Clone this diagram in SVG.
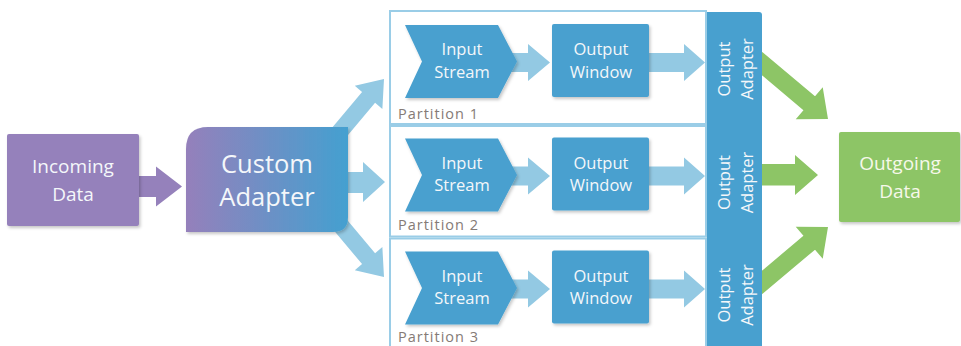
<svg xmlns="http://www.w3.org/2000/svg" width="961" height="346" viewBox="0 0 961 346">
  <defs>
    <linearGradient id="adapterGrad" x1="0" y1="0" x2="1" y2="0">
      <stop offset="0" stop-color="#9580BB"/>
      <stop offset="1" stop-color="#44A0D0"/>
    </linearGradient>
    <filter id="shadow" x="-10%" y="-10%" width="130%" height="130%">
      <feDropShadow dx="1.5" dy="2" stdDeviation="1.5" flood-color="#000" flood-opacity="0.22"/>
    </filter>
    <polygon id="diagBlue" points="0,0 -24,-18 -24,-8.5 -85,-8.5 -85,8.5 -24,8.5 -24,18"/>
    <polygon id="diagGreen" points="0,0 -24.5,-21 -24.5,-9 -100,-9 -100,9 -24.5,9 -24.5,21"/>
  </defs>
  <style>
    text { font-family: "Open Sans", "Noto Sans", "DejaVu Sans", sans-serif; }
    .lbl { fill: #F4F7FA; text-anchor: middle; }
    .big { font-size: 19px; }
    .huge { font-size: 25.5px; }
    .mid { font-size: 16.5px; }
    .part { fill: none; stroke: #9ACDE7; stroke-width: 2; }
    .ptxt { fill: #857B76; font-size: 14.5px; letter-spacing: 1px; }
    .blue { fill: #48A0CF; }
    .flow { fill: #93C9E3; }
    .green { fill: #8DC566; }
    .purple { fill: #9581BB; }
  </style>

  <!-- partition frames -->
  <g id="partitions">
    <rect class="part" x="390" y="11" width="316" height="113"/>
    <rect class="part" x="390" y="126" width="316" height="110.5"/>
    <rect class="part" x="390" y="238.5" width="316" height="120"/>
    <text class="ptxt" x="398" y="119">Partition 1</text>
    <text class="ptxt" x="398" y="230">Partition 2</text>
    <text class="ptxt" x="398" y="342">Partition 3</text>
  </g>

  <!-- connectors -->
  <g id="connectors">
    <polygon class="purple" points="136,176 156,176 156,166.5 182,186.5 156,206.5 156,197 136,197"/>
    <use href="#diagBlue" class="flow" transform="translate(384,79) rotate(-50)"/>
    <polygon class="flow" points="340,172 363,172 363,162 385,182 363,202 363,193 340,193"/>
    <use href="#diagBlue" class="flow" transform="translate(384,277) rotate(50)"/>
    <g id="row1-flow">
      <polygon class="flow" points="508,53 528,53 528,44 550,62.5 528,81 528,72 508,72"/>
      <polygon class="flow" points="645,53 684,53 684,44 705,62.5 684,81 684,72 645,72"/>
    </g>
    <g id="row2-flow" transform="translate(0,113.5)">
      <polygon class="flow" points="508,53 528,53 528,44 550,62.5 528,81 528,72 508,72"/>
      <polygon class="flow" points="645,53 684,53 684,44 705,62.5 684,81 684,72 645,72"/>
    </g>
    <g id="row3-flow" transform="translate(0,226.5)">
      <polygon class="flow" points="508,53 528,53 528,44 550,62.5 528,81 528,72 508,72"/>
      <polygon class="flow" points="645,53 684,53 684,44 705,62.5 684,81 684,72 645,72"/>
    </g>
    <use href="#diagGreen" class="green" transform="translate(828,119) rotate(40)"/>
    <polygon class="green" points="745,164 795,164 795,155 818,175 795,195 795,185.5 745,185.5"/>
    <use href="#diagGreen" class="green" transform="translate(828,227) rotate(-40)"/>
  </g>

  <!-- source -->
  <g id="incoming-data">
    <rect class="purple" x="7" y="134" width="132" height="92" rx="2" filter="url(#shadow)"/>
    <text class="lbl big" x="73" y="173">Incoming</text>
    <text class="lbl big" x="73" y="201">Data</text>
  </g>

  <g id="custom-adapter">
    <path d="M208,127 H348 V217 Q348,232 333,232 H186 V149 Q186,127 208,127 Z" fill="url(#adapterGrad)" filter="url(#shadow)"/>
    <text class="lbl huge" x="267" y="173">Custom</text>
    <text class="lbl huge" x="267" y="206">Adapter</text>
  </g>

  <!-- partition 1 -->
  <g id="input-stream-1">
    <path class="blue" d="M405,25 H498 L517,61.5 L498,98 H405 L422,61.5 Z" filter="url(#shadow)"/>
    <text class="lbl mid" x="462" y="55">Input</text>
    <text class="lbl mid" x="462" y="77.5">Stream</text>
  </g>
  <g id="output-window-1">
    <rect class="blue" x="552" y="24" width="97" height="73" rx="2" filter="url(#shadow)"/>
    <text class="lbl mid" x="601" y="55">Output</text>
    <text class="lbl mid" x="601" y="77.5">Window</text>
  </g>

  <!-- partition 2 -->
  <g id="input-stream-2" transform="translate(0,113.5)">
    <path class="blue" d="M405,25 H498 L517,61.5 L498,98 H405 L422,61.5 Z" filter="url(#shadow)"/>
    <text class="lbl mid" x="462" y="55">Input</text>
    <text class="lbl mid" x="462" y="77.5">Stream</text>
  </g>
  <g id="output-window-2" transform="translate(0,113.5)">
    <rect class="blue" x="552" y="24" width="97" height="73" rx="2" filter="url(#shadow)"/>
    <text class="lbl mid" x="601" y="55">Output</text>
    <text class="lbl mid" x="601" y="77.5">Window</text>
  </g>

  <!-- partition 3 -->
  <g id="input-stream-3" transform="translate(0,226.5)">
    <path class="blue" d="M405,25 H498 L517,61.5 L498,98 H405 L422,61.5 Z" filter="url(#shadow)"/>
    <text class="lbl mid" x="462" y="55">Input</text>
    <text class="lbl mid" x="462" y="77.5">Stream</text>
  </g>
  <g id="output-window-3" transform="translate(0,226.5)">
    <rect class="blue" x="552" y="24" width="97" height="73" rx="2" filter="url(#shadow)"/>
    <text class="lbl mid" x="601" y="55">Output</text>
    <text class="lbl mid" x="601" y="77.5">Window</text>
  </g>

  <!-- shared output adapter column -->
  <g id="output-adapters">
    <path class="blue" d="M707,12 H759 Q762,12 762,15 V346 H707 Z"/>
    <text class="lbl mid" transform="translate(729.5,69) rotate(-90)"><tspan x="0" y="0">Output</tspan><tspan x="0" y="23">Adapter</tspan></text>
    <text class="lbl mid" transform="translate(729.5,182.5) rotate(-90)"><tspan x="0" y="0">Output</tspan><tspan x="0" y="23">Adapter</tspan></text>
    <text class="lbl mid" transform="translate(729.5,295) rotate(-90)"><tspan x="0" y="0">Output</tspan><tspan x="0" y="23">Adapter</tspan></text>
  </g>

  <g id="outgoing-data">
    <rect class="green" x="839" y="132" width="121" height="90" rx="2" filter="url(#shadow)"/>
    <text class="lbl big" x="900" y="170" style="fill:#F6F8EA">Outgoing</text>
    <text class="lbl big" x="900" y="198" style="fill:#F6F8EA">Data</text>
  </g>
</svg>
